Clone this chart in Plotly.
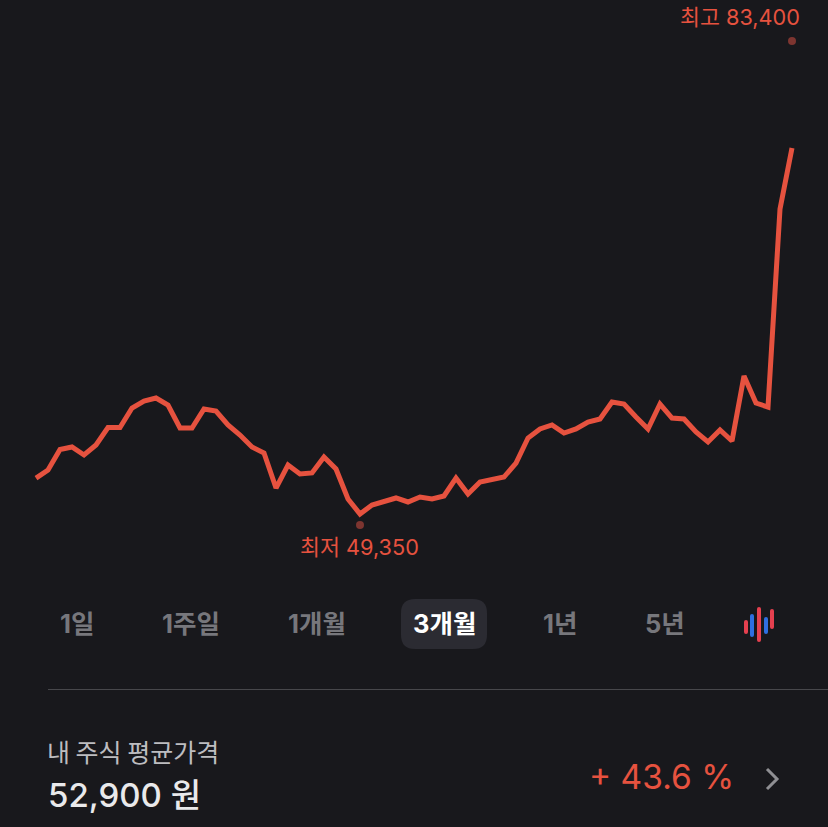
import plotly.graph_objects as go

W, H = 828, 827

prices = [52650, 53220, 54660, 54840, 54275, 54980, 56210, 56210, 57580, 58075,
          58285, 57790, 56175, 56175, 57510, 57370, 56385, 55680, 54840, 54415,
          51950, 53570, 52940, 53010, 54135, 53290, 51180, 50125, 50755, 51040,
          51250, 50970, 51320, 51180, 51390, 52650, 51530, 52375, 52585, 52725,
          53710, 55470, 56105, 56385, 55820, 56105, 56595, 56805, 58000, 57860,
          56950, 56105, 57860, 56875, 56805, 55890, 55190, 56035, 55260, 59830,
          57930, 57650, 71580, 75870]
low_value, low_index = 49350, 27
high_value, high_index = 83400, 63
tabs = ["1일", "1주일", "1개월", "3개월", "1년", "5년"]
active_tab = "3개월"
tab_centers = [77, 191, 317, 444, 560, 665]
avg_label = "내 주식 평균가격"
avg_price = "52,900 원"
change = "+ 43.6 %"

BG = "#18181c"
RED = "#e6523f"
FONT = "Inter, 'Noto Sans CJK KR', sans-serif"
KR = "'Noto Sans CJK KR', Inter, sans-serif"

def fx(px):
    return px / W

def fy(py):
    return 1 - py / H

def rounded(x0, y0, x1, y1, r):
    a, b, c, d = fx(x0), fy(y0), fx(x1), fy(y1)
    rx, ry = r / W, r / H
    return (f"M{a+rx},{b} L{c-rx},{b} Q{c},{b} {c},{b-ry} L{c},{d+ry} Q{c},{d} {c-rx},{d} "
            f"L{a+rx},{d} Q{a},{d} {a},{d+ry} L{a},{b-ry} Q{a},{b} {a+rx},{b} Z")

fig = go.Figure()
fig.add_trace(go.Scatter(x=list(range(len(prices))), y=prices, mode="lines",
                         line=dict(color=RED, width=5), hoverinfo="skip"))
fig.add_trace(go.Scatter(x=[low_index, high_index], y=[low_value, high_value], mode="markers",
                         marker=dict(color="#7d3530", size=8), hoverinfo="skip"))

def label(text, x, y, size, color, anchor="center", font=FONT, weight=400):
    fig.add_annotation(text=text, x=fx(x), y=fy(y), xref="paper", yref="paper",
                       xanchor=anchor, yanchor="middle", showarrow=False,
                       font=dict(size=size, color=color, family=font, weight=weight))

label(f"최고 {high_value:,}", 739.5, 17, 21.7, RED)
label(f"최저 {low_value:,}", 359.5, 547, 21.7, RED)

shapes = [
    dict(type="path", path=rounded(401, 599, 487, 649, 14), xref="paper", yref="paper",
         fillcolor="#2b2b32", line=dict(width=0), layer="below"),
    dict(type="line", x0=fx(48), x1=1, y0=fy(689.5), y1=fy(689.5), xref="paper", yref="paper",
         line=dict(color="#47474b", width=1)),
    dict(type="path", path=f"M{fx(767)},{fy(769)} L{fx(777)},{fy(779)} L{fx(767)},{fy(789)}",
         xref="paper", yref="paper", line=dict(color="#8f8f93", width=3)),
]
for cx, top, bottom, col in [(746, 620, 634, "#e5404f"), (752, 614, 637, "#2f6fe0"),
                             (759, 607, 642, "#e5404f"), (766, 617, 634, "#2f6fe0"),
                             (772, 609, 629, "#e5404f")]:
    shapes.append(dict(type="path", path=rounded(cx - 2, top, cx + 2, bottom, 2),
                       xref="paper", yref="paper", fillcolor=col, line=dict(width=0)))

for t, cx in zip(tabs, tab_centers):
    on = t == active_tab
    label(t, cx, 623.5, 25.5, "#ffffff" if on else "#77777c", weight=700)

label(avg_label, 45, 750.5, 25, "#bdbdc0", anchor="left", font=KR)
label(avg_price, 46, 795, 33, "#e9e9eb", anchor="left", weight=500)
label(change, 736, 776.5, 33.5, RED, anchor="right")

fig.update_layout(
    width=W, height=H, margin=dict(l=0, r=0, t=0, b=0),
    paper_bgcolor=BG, plot_bgcolor=BG, showlegend=False, shapes=shapes,
    xaxis=dict(range=[-3, 66], visible=False, fixedrange=True),
    yaxis=dict(range=[28104, 86284], visible=False, fixedrange=True),
)
fig.write_html("out.html", config={"displayModeBar": False},
               post_script=f"document.documentElement.style.background='{BG}';"
                           f"document.body.style.margin='0';document.body.style.background='{BG}';"
                           "document.body.style.overflow='hidden';")
